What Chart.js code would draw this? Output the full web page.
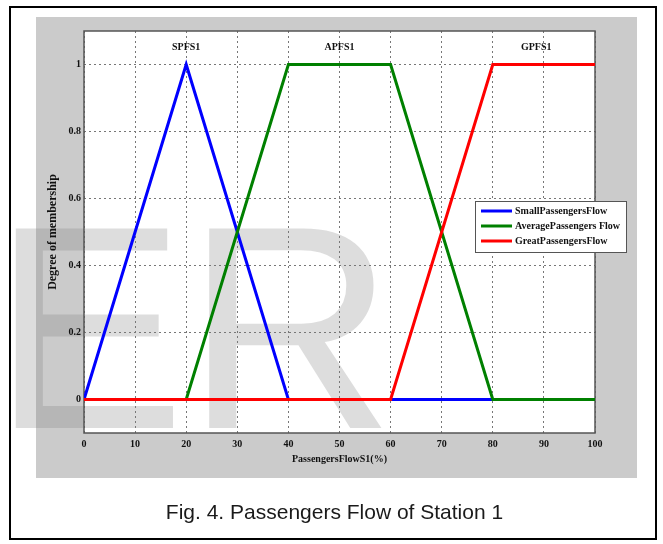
<!DOCTYPE html>
<html>
<head>
<meta charset="utf-8">
<script src="https://cdn.jsdelivr.net/npm/chart.js@4"></script>
<style>
  html, body { margin: 0; padding: 0; background: #fff; }
  #wrap { position: relative; width: 663px; height: 544px; overflow: hidden; }
  #frame { position: absolute; left: 9px; top: 6px; width: 648px; height: 534px; border: 2px solid #000; box-sizing: border-box; }
  #chart { position: absolute; left: 0; top: 0; }
  #caption { position: absolute; left: 3px; width: 663px; top: 499px; text-align: center;
    font-family: "Liberation Sans", Arial, sans-serif; font-size: 21px; color: #1a1a1a; line-height: 26px; }
</style>
</head>
<body>
<div id="wrap">
  <div id="frame"></div>
  <canvas id="chart" width="663" height="544"></canvas>
  <div id="caption">Fig. 4. Passengers Flow of Station 1</div>
</div>
<script>
// membership functions (x in %, y = degree)
const smallX = [0, 20, 40, 100];
const smallY = [0, 1, 0, 0];
const averageX = [0, 20, 40, 60, 80, 100];
const averageY = [0, 0, 1, 1, 0, 0];
const greatX = [0, 60, 80, 100];
const greatY = [0, 0, 1, 1];

const seriesNames = ["SmallPassengersFlow", "AveragePassengers Flow", "GreatPassengersFlow"];
const mfNames = ["SPFS1", "APFS1", "GPFS1"];
const mfNameX = [20, 50, 88.5];
const mfNameY = 1.05;

const xTicks = [0, 10, 20, 30, 40, 50, 60, 70, 80, 90, 100];
const yTicks = [0, 0.2, 0.4, 0.6, 0.8, 1];
const yTickLabels = ["0", "0.2", "0.4", "0.6", "0.8", "1"];

const SERIF = "'Liberation Serif', 'Times New Roman', serif";
Chart.defaults.font.family = SERIF;
Chart.defaults.color = "#111";

function pts(xs, ys) {
  return xs.map((x, i) => ({ x: x, y: ys[i] }));
}

const backdrop = {
  id: "backdrop",
  beforeDraw(chart) {
    const ctx = chart.ctx;
    const a = chart.chartArea;
    ctx.save();
    ctx.fillStyle = "#cbcbcb";
    ctx.fillRect(36, 17, 601, 461);
    ctx.fillStyle = "#fff";
    ctx.fillRect(a.left, a.top, a.right - a.left, a.bottom - a.top);
    // faint watermark letters
    ctx.font = "290px 'Liberation Sans', Arial, sans-serif";
    ctx.fillStyle = "rgba(120,120,120,0.25)";
    ctx.textBaseline = "alphabetic";
    ctx.fillText("ER", -8, 428);
    ctx.restore();
  },
  beforeDatasetsDraw(chart) {
    const ctx = chart.ctx;
    const a = chart.chartArea;
    ctx.save();
    ctx.strokeStyle = "#555";
    ctx.lineWidth = 1.5;
    ctx.strokeRect(a.left, a.top, a.right - a.left, a.bottom - a.top);
    ctx.restore();
  },
  afterDraw(chart) {
    const ctx = chart.ctx;
    const xs = chart.scales.x, ys = chart.scales.y;
    ctx.save();
    ctx.font = "bold 10px " + SERIF;
    ctx.fillStyle = "#111";
    ctx.textAlign = "center";
    ctx.textBaseline = "middle";
    mfNames.forEach((n, i) => {
      ctx.fillText(n, xs.getPixelForValue(mfNameX[i]), ys.getPixelForValue(mfNameY));
    });

    // legend box
    const bx = 475, by = 201, bw = 151, bh = 51;
    ctx.fillStyle = "#fff";
    ctx.fillRect(bx, by, bw, bh);
    ctx.strokeStyle = "#555";
    ctx.lineWidth = 1;
    ctx.strokeRect(bx + 0.5, by + 0.5, bw, bh);
    ctx.textAlign = "left";
    chart.data.datasets.forEach((ds, i) => {
      const y = by + 10 + i * 15;
      ctx.strokeStyle = ds.borderColor;
      ctx.lineWidth = 3;
      ctx.beginPath();
      ctx.moveTo(481, y);
      ctx.lineTo(512, y);
      ctx.stroke();
      ctx.fillStyle = "#111";
      ctx.fillText(ds.label, 515, y);
    });
    ctx.restore();
  }
};

new Chart(document.getElementById("chart"), {
  type: "line",
  data: {
    datasets: [
      { label: seriesNames[0], data: pts(smallX, smallY), borderColor: "#0000ff", order: 2 },
      { label: seriesNames[1], data: pts(averageX, averageY), borderColor: "#008000", order: 1 },
      { label: seriesNames[2], data: pts(greatX, greatY), borderColor: "#ff0000", order: 0 },
    ],
  },
  options: {
    responsive: false,
    animation: false,
    events: [],
    layout: { padding: { left: 34, top: 31, right: 68, bottom: 71 } },
    elements: {
      line: { borderWidth: 3, tension: 0, fill: false },
      point: { radius: 0 },
    },
    plugins: { legend: { display: false }, tooltip: { enabled: false } },
    scales: {
      x: {
        type: "linear",
        min: 0,
        max: 100,
        afterBuildTicks: (s) => { s.ticks = xTicks.map((v) => ({ value: v })); },
        afterFit: (s) => { s.height = 40; },
        grid: { color: "#777", lineWidth: 1, drawTicks: false },
        border: { display: false, dash: [2, 3] },
        ticks: { padding: 5, font: { size: 10, weight: "bold" }, maxRotation: 0 },
        title: {
          display: true,
          text: "PassengersFlowS1(%)",
          font: { size: 10, weight: "bold", lineHeight: 1 },
          padding: { top: 0, bottom: 9 },
        },
      },
      y: {
        min: -0.1,
        max: 1.1,
        afterBuildTicks: (s) => { s.ticks = yTicks.map((v) => ({ value: v })); },
        afterFit: (s) => { s.width = 50; },
        grid: { color: "#777", lineWidth: 1, drawTicks: false },
        border: { display: false, dash: [2, 3] },
        ticks: {
          padding: 3,
          font: { size: 10, weight: "bold" },
          callback: (v) => yTickLabels[yTicks.indexOf(v)] ?? "",
        },
        title: {
          display: true,
          text: "Degree of membership",
          font: { size: 12, weight: "bold", lineHeight: 1 },
          padding: { top: 13, bottom: 0 },
        },
      },
    },
  },
  plugins: [backdrop],
});
</script>
</body>
</html>
